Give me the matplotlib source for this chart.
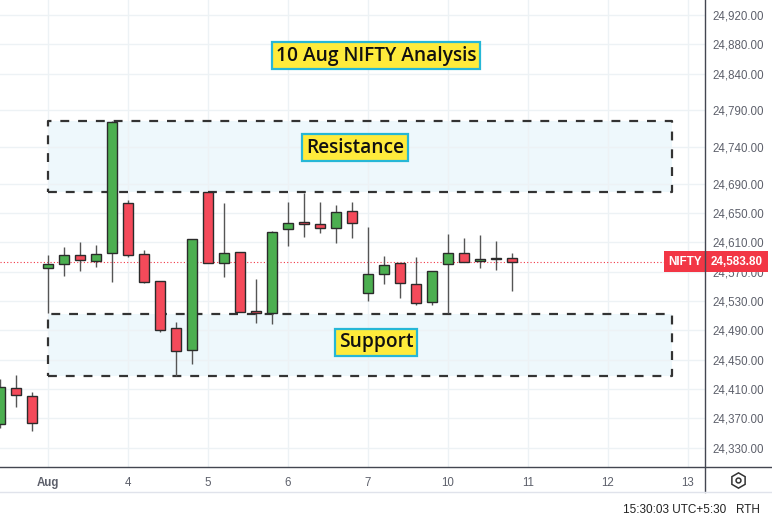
import matplotlib.pyplot as plt
from matplotlib.lines import Line2D
from matplotlib.ticker import FixedLocator, FuncFormatter

# 75-minute NIFTY candles, 31 Jul (last 3) .. 10 Aug
opens = [24362, 24411, 24401,
         24574.6, 24580, 24592.7, 24584, 24595,
         24664, 24594, 24557, 24493, 24462.7,
         24679, 24581.4, 24596.4, 24516, 24513,
         24628, 24637.3, 24634.6, 24629.5, 24652.7,
         24541.4, 24566.8, 24581.4, 24553.2, 24529,
         24580.4, 24595, 24584.5, 24587.8, 24588.2]
highs = [24423.6, 24428.7, 24406,
         24592.7, 24603.6, 24610.4, 24606, 24776,
         24667.7, 24599.5, 24557, 24501.8, 24615,
         24679, 24663, 24597, 24560, 24625,
         24665.4, 24677.7, 24665.4, 24660.5, 24664.6,
         24630.5, 24591.8, 24581.4, 24590.4, 24571,
         24621.4, 24615.5, 24620, 24611.8, 24595.8]
lows = [24357, 24385, 24353,
        24514, 24564, 24571, 24577, 24555.5,
        24590.4, 24554, 24488, 24428, 24443.7,
        24581.4, 24563, 24515, 24499.6, 24498,
        24605.4, 24616.8, 24623, 24608.7, 24616,
        24530, 24552.8, 24533.6, 24524, 24524,
        24513, 24582.8, 24575.4, 24572.3, 24543.6]
closes = [24412.7, 24401.4, 24364,
          24580.4, 24592.7, 24585.5, 24593.6, 24774.5,
          24592.3, 24555.5, 24490.4, 24461.4, 24615,
          24582, 24595, 24515.4, 24513, 24624.5,
          24636, 24634.6, 24629.5, 24651.4, 24636.8,
          24566.4, 24578.7, 24554.5, 24526.8, 24571,
          24595, 24582.8, 24587.7, 24587.8, 24583.8]
first_idx = -3

day_labels = ['Aug', '4', '5', '6', '7', '10', '11', '12', '13']
day_pos = [0, 5, 10, 15, 20, 25, 30, 35, 40]
price_ticks = [24330, 24370, 24410, 24450, 24490, 24530, 24570, 24610,
               24650, 24690, 24740, 24790, 24840, 24880, 24920]
last_price = 24583.80

resistance = (24679, 24776)
support = (24428, 24512.7)
zone_x = (0, 39)

green = '#4caf50'
red = '#f44a5a'
edge = '#2b2b2b'

fig = plt.figure(figsize=(7.72, 5.24), dpi=100, facecolor='white')
ax = fig.add_axes([0, 1 - 467 / 524, 705 / 772, 467 / 524])
ax.set_xlim(-3, 41.06)
ax.set_ylim(24303.6, 24940.5)

ax.grid(True, color='#edf2f5', linewidth=1)
ax.set_axisbelow(True)
ax.xaxis.set_major_locator(FixedLocator(day_pos))
ax.set_xticklabels(day_labels)
ax.yaxis.set_major_locator(FixedLocator(price_ticks))
ax.yaxis.set_major_formatter(FuncFormatter(lambda v, p: f'{v:,.2f}'))
ax.yaxis.tick_right()
ax.tick_params(axis='both', length=0, labelcolor='#5d606b', labelsize=8.3)
ax.tick_params(axis='y', pad=5.5)
ax.tick_params(axis='x', pad=7)
for lab in ax.get_xticklabels() + ax.get_yticklabels():
    lab.set_family('Liberation Sans')
ax.get_xticklabels()[0].set_fontweight('bold')
for s in ax.spines.values():
    s.set_visible(False)

# zones
for lo, hi in (resistance, support):
    ax.fill_between(zone_x, lo, hi, color='#eef8fc', zorder=0.5, linewidth=0)
    ax.plot([zone_x[0], zone_x[1], zone_x[1], zone_x[0], zone_x[0]],
            [lo, lo, hi, hi, lo], color='#333333', linewidth=1.6,
            dashes=(4, 4), zorder=1)

# candles
for i, (o, h, l, c) in enumerate(zip(opens, highs, lows, closes)):
    x = first_idx + i
    col = green if c > o else (red if c < o else '#777777')
    ax.vlines(x, l, h, color='#555555', linewidth=1, zorder=2)
    ax.bar(x, max(abs(c - o), 0.4), bottom=min(o, c), width=0.68,
           color=col, edgecolor=edge, linewidth=1, zorder=3)

# last price line and labels
ax.axhline(last_price, color='#f23645', linewidth=0.8, linestyle=(0, (1, 2)),
           zorder=1.5)
lab_font = dict(family='Liberation Sans', fontsize=8.4, fontweight='bold',
                color='white', va='center')
ax.text(1.0 - 3 / 705, last_price, 'NIFTY', ha='right',
        transform=ax.get_yaxis_transform(), zorder=6,
        bbox=dict(boxstyle='square,pad=0.35', fc='#f23645', ec='none'),
        **lab_font)
ax.text(1.0 + 6 / 705, last_price, f'{last_price:,.2f}', ha='left',
        transform=ax.get_yaxis_transform(), zorder=6, clip_on=False,
        bbox=dict(boxstyle='square,pad=0.4', fc='#f23645', ec='none'),
        **lab_font)

box = dict(boxstyle='square,pad=0.2', fc='#ffeb3b', ec='#26b7d6', lw=1.6)
note_font = dict(family='Open Sans', fontweight='semibold', color='#111111',
                 ha='center', va='center', zorder=7)
ax.text(20.5, 24864.8, '10 Aug NIFTY Analysis', fontsize=13.8, bbox=box,
        **note_font)
ax.text(19.2, 24739.3, 'Resistance', fontsize=13.8, bbox=box, **note_font)
ax.text(20.5, 24473.6, 'Support', fontsize=13.8, bbox=box, **note_font)

# frame lines, footer
def fline(x0, y0, x1, y1, **kw):
    fig.add_artist(Line2D([x0 / 772, x1 / 772], [1 - y0 / 524, 1 - y1 / 524],
                          transform=fig.transFigure, **kw))

fline(705, 0, 705, 492, color='#434651', linewidth=1)
fline(0, 467, 772, 467, color='#434651', linewidth=1)
fline(0, 492, 772, 492, color='#e0e3eb', linewidth=1)
fig.add_artist(Line2D([738 / 772], [1 - 480 / 524], marker='h', markersize=11,
                      markerfacecolor='none', markeredgecolor='#333333',
                      markeredgewidth=1.1, transform=fig.transFigure))
fig.add_artist(Line2D([738 / 772], [1 - 480 / 524], marker='o', markersize=3.5,
                      markerfacecolor='none', markeredgecolor='#333333',
                      markeredgewidth=1.1, transform=fig.transFigure))
fig.text(760 / 772, 1 - 510 / 524, '15:30:03 UTC+5:30   RTH', ha='right',
         va='center', fontsize=8.5, family='Liberation Sans', color='#222222')

fig.savefig('out.png', dpi=100)
